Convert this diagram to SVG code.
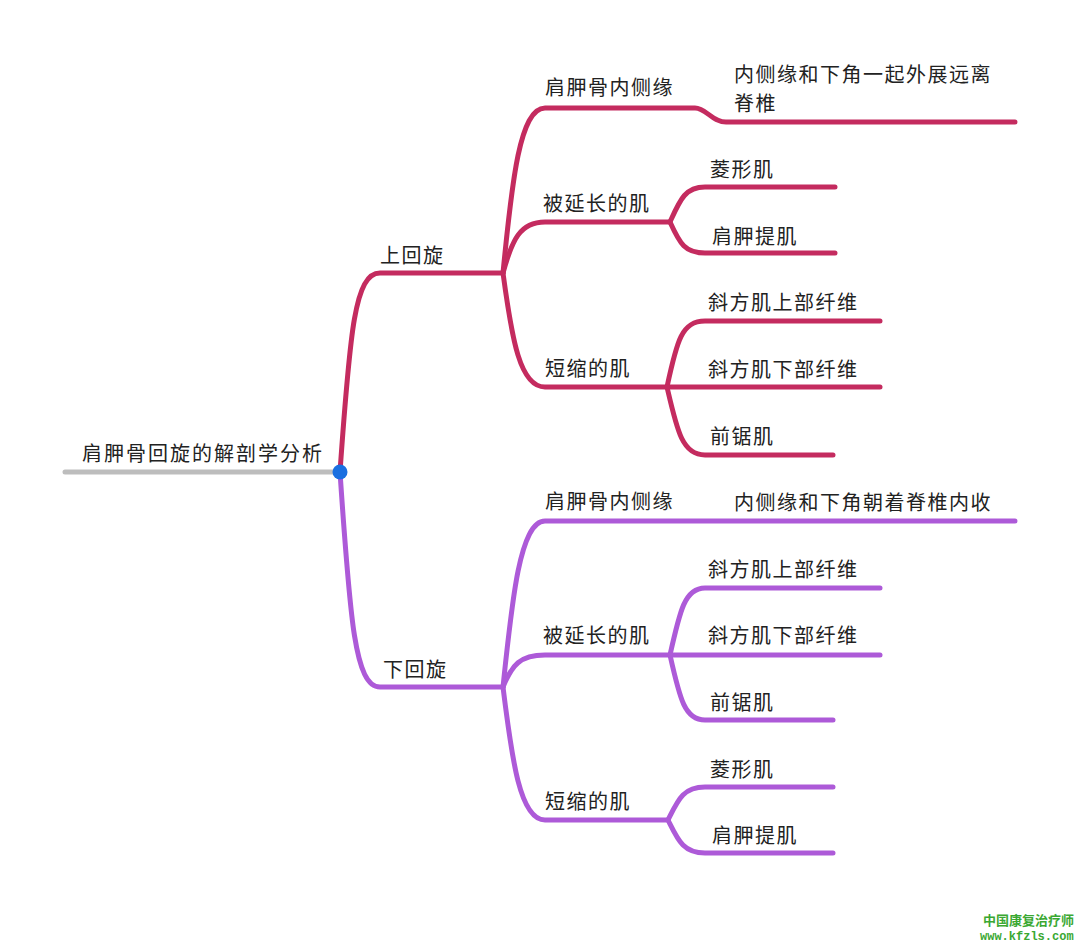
<svg xmlns="http://www.w3.org/2000/svg" width="1080" height="946" viewBox="0 0 1080 946">
<style>
.t{font-family:"Noto Sans CJK SC","Noto Sans",sans-serif;font-size:20px;fill:#222;letter-spacing:1.5px}
.up{fill:none;stroke:#c42b5f;stroke-width:5;stroke-linecap:round;stroke-linejoin:round}
.dn{fill:none;stroke:#ad5ad8;stroke-width:5;stroke-linecap:round;stroke-linejoin:round}
.wm{font-family:"Noto Sans CJK SC",sans-serif;font-weight:bold;fill:#3aa832}
</style>
<rect width="1080" height="946" fill="#ffffff"/>
<g id="connectors">
<line x1="65" y1="472" x2="340" y2="472" stroke="#bdbdbd" stroke-width="5" stroke-linecap="round"/>
<path class="up" d="M340,472 C350,330 355,273 380,273 L503,273"/>
<path class="up" d="M503,273 C512,180 520,108 545,108 L695,108 C706,108 712,122 726,122 L1015,122"/>
<path class="up" d="M503,273 C512,240 520,222 545,222 L670,222"/>
<path class="up" d="M503,273 C512,340 520,387 545,387 L667,387"/>
<path class="up" d="M670,222 C680,200 685,187 705,187 L835,187"/>
<path class="up" d="M670,222 C680,244 685,253 705,253 L835,253"/>
<path class="up" d="M667,387 C677,340 682,321 705,321 L880,321"/>
<path class="up" d="M667,387 L880,387"/>
<path class="up" d="M667,387 C677,430 682,455 705,455 L833,455"/>
<path class="dn" d="M340,472 C350,620 355,687 380,687 L503,687"/>
<path class="dn" d="M503,687 C512,600 520,521 545,521 L1015,521"/>
<path class="dn" d="M503,687 C512,665 520,655 545,655 L670,655"/>
<path class="dn" d="M503,687 C512,760 520,820 545,820 L668,820"/>
<path class="dn" d="M670,655 C680,610 685,588 705,588 L880,588"/>
<path class="dn" d="M670,655 L880,655"/>
<path class="dn" d="M670,655 C680,700 685,720 705,720 L833,720"/>
<path class="dn" d="M668,820 C678,800 683,787 705,787 L833,787"/>
<path class="dn" d="M668,820 C678,840 683,853 705,853 L833,853"/>
</g>
<g id="root"><text class="t" x="82" y="461" style="letter-spacing:2px">肩胛骨回旋的解剖学分析</text><circle cx="340" cy="472" r="7.5" fill="#1a6fe0"/></g>
<g id="upper"><text class="t" x="380" y="263">上回旋</text></g>
<g id="u-edge"><text class="t" x="545" y="95">肩胛骨内侧缘</text></g>
<g id="u-edge-desc"><text class="t" x="734" y="82">内侧缘和下角一起外展远离</text><text class="t" x="734" y="111">脊椎</text></g>
<g id="u-long"><text class="t" x="543" y="211">被延长的肌</text></g>
<g id="u-long-1"><text class="t" x="710" y="177">菱形肌</text></g>
<g id="u-long-2"><text class="t" x="712" y="244">肩胛提肌</text></g>
<g id="u-short"><text class="t" x="545" y="376">短缩的肌</text></g>
<g id="u-short-1"><text class="t" x="708" y="310">斜方肌上部纤维</text></g>
<g id="u-short-2"><text class="t" x="708" y="377">斜方肌下部纤维</text></g>
<g id="u-short-3"><text class="t" x="710" y="444">前锯肌</text></g>
<g id="lower"><text class="t" x="383" y="677">下回旋</text></g>
<g id="d-edge"><text class="t" x="545" y="509">肩胛骨内侧缘</text></g>
<g id="d-edge-desc"><text class="t" x="734" y="510">内侧缘和下角朝着脊椎内收</text></g>
<g id="d-long"><text class="t" x="543" y="643">被延长的肌</text></g>
<g id="d-long-1"><text class="t" x="708" y="577">斜方肌上部纤维</text></g>
<g id="d-long-2"><text class="t" x="708" y="643">斜方肌下部纤维</text></g>
<g id="d-long-3"><text class="t" x="710" y="710">前锯肌</text></g>
<g id="d-short"><text class="t" x="545" y="809">短缩的肌</text></g>
<g id="d-short-1"><text class="t" x="710" y="777">菱形肌</text></g>
<g id="d-short-2"><text class="t" x="712" y="843">肩胛提肌</text></g>
<g id="watermark"><text class="wm" x="983" y="925" font-size="13">中国康复治疗师</text><text x="980" y="940" font-family="Liberation Mono,monospace" font-weight="bold" font-size="12" fill="#3aa832">www.kfzls.com</text></g>
</svg>
